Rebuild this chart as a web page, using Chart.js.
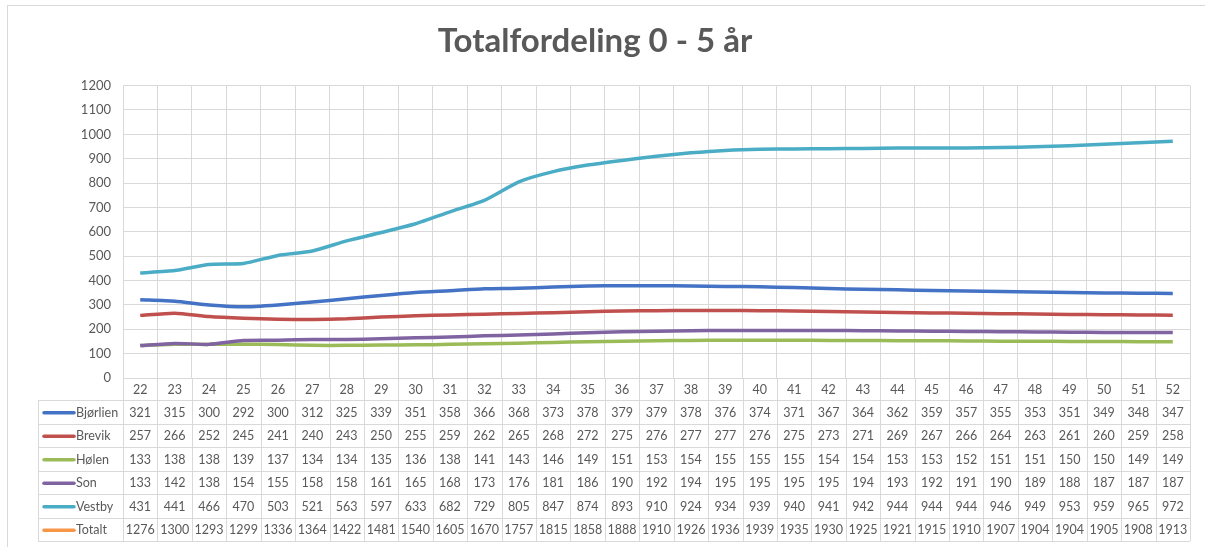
<!DOCTYPE html>
<html lang="no">
<head>
<meta charset="utf-8">
<title>Totalfordeling 0 - 5 år</title>
<script src="https://cdn.jsdelivr.net/npm/chart.js@4/dist/chart.umd.min.js"></script>
<style>
  html, body { margin: 0; padding: 0; background: #ffffff; }
  #wrap { position: relative; width: 1205px; height: 547px; }
</style>
</head>
<body>
<div id="wrap"><canvas id="chart" width="1205" height="547"></canvas></div>
<script>
// årstall (kolonner)
const years = ['22','23','24','25','26','27','28','29','30','31','32','33','34','35','36','37','38','39','40','41','42','43','44','45','46','47','48','49','50','51','52'];

// verdier per skolekrets
const bjorlien = [321,315,300,292,300,312,325,339,351,358,366,368,373,378,379,379,378,376,374,371,367,364,362,359,357,355,353,351,349,348,347];
const brevik   = [257,266,252,245,241,240,243,250,255,259,262,265,268,272,275,276,277,277,276,275,273,271,269,267,266,264,263,261,260,259,258];
const holen    = [133,138,138,139,137,134,134,135,136,138,141,143,146,149,151,153,154,155,155,155,154,154,153,153,152,151,151,150,150,149,149];
const son      = [133,142,138,154,155,158,158,161,165,168,173,176,181,186,190,192,194,195,195,195,195,194,193,192,191,190,189,188,187,187,187];
const vestby   = [431,441,466,470,503,521,563,597,633,682,729,805,847,874,893,910,924,934,939,940,941,942,944,944,944,946,949,953,959,965,972];
const totalt   = [1276,1300,1293,1299,1336,1364,1422,1481,1540,1605,1670,1757,1815,1858,1888,1910,1926,1936,1939,1935,1930,1925,1921,1915,1910,1907,1904,1904,1905,1908,1913];

const seriesNames = ['Bjørlien','Brevik','Hølen','Son','Vestby','Totalt'];
const yTicks = [0,100,200,300,400,500,600,700,800,900,1000,1100,1200];

const textColor = '#595959';
const gridColor = '#d9d9d9';
const fontFamily = 'Lato, "Open Sans", sans-serif';
const colors = ['#4472c4','#c0504d','#9bbb59','#8064a2','#4bacc6','#f79646'];

// tabell-layout under grafen
const labelRowHeight = 22;
const rowHeight = 23.5;
const tableLeft = 38;

// tegner datatabellen (som i Excel) under x-aksen
const dataTablePlugin = {
  id: 'dataTable',
  beforeDraw(chart) {
    const ctx = chart.ctx;
    ctx.save();
    ctx.strokeStyle = '#d9d9d9';
    ctx.lineWidth = 1;
    ctx.strokeRect(7.5, 5.5, chart.width, chart.height);
    ctx.restore();
  },
  afterDraw(chart) {
    const ctx = chart.ctx;
    const x = chart.scales.x;
    const area = chart.chartArea;
    const tableTop = area.bottom + labelRowHeight;
    const rows = chart.data.datasets.length;
    const tableBottom = tableTop + rows * rowHeight;
    const colW = (area.right - area.left) / years.length;

    ctx.save();
    ctx.strokeStyle = gridColor;
    ctx.lineWidth = 1;

    // vertikale linjer
    for (let i = 0; i <= years.length; i++) {
      const px = Math.round(area.left + i * colW) + 0.5;
      ctx.beginPath();
      ctx.moveTo(px, area.bottom);
      ctx.lineTo(px, tableBottom);
      ctx.stroke();
    }
    ctx.beginPath();
    ctx.moveTo(tableLeft + 0.5, tableTop);
    ctx.lineTo(tableLeft + 0.5, tableBottom);
    ctx.stroke();

    // horisontale linjer
    for (let r = 0; r <= rows; r++) {
      const py = Math.round(tableTop + r * rowHeight) + 0.5;
      ctx.beginPath();
      ctx.moveTo(tableLeft, py);
      ctx.lineTo(area.right, py);
      ctx.stroke();
    }

    // kategori-etiketter
    ctx.fillStyle = textColor;
    ctx.font = '12.5px ' + fontFamily;
    ctx.textAlign = 'center';
    ctx.textBaseline = 'middle';
    years.forEach((yr, i) => {
      ctx.fillText(yr, x.getPixelForValue(i), area.bottom + labelRowHeight / 2 + 1);
    });

    // rader med forklaring og verdier
    chart.data.datasets.forEach((ds, r) => {
      const cy = tableTop + r * rowHeight + rowHeight / 2 + 1;
      ctx.strokeStyle = ds.borderColor;
      ctx.lineWidth = 3.5;
      ctx.lineCap = 'round';
      ctx.beginPath();
      ctx.moveTo(44, cy);
      ctx.lineTo(74, cy);
      ctx.stroke();

      ctx.fillStyle = textColor;
      ctx.textAlign = 'left';
      ctx.fillText(ds.label, 76, cy);
      ctx.textAlign = 'center';
      ds.data.forEach((v, i) => {
        ctx.fillText(String(v), x.getPixelForValue(i), cy);
      });
    });
    ctx.restore();
  }
};

function makeDataset(name, values, idx) {
  return {
    label: name,
    data: values,
    borderColor: colors[idx],
    backgroundColor: colors[idx],
    borderWidth: 3.5,
    pointRadius: 0,
    tension: 0.2,
    hidden: name === 'Totalt',
    order: 10 - idx
  };
}

const ctx = document.getElementById('chart').getContext('2d');
new Chart(ctx, {
  type: 'line',
  data: {
    labels: years,
    datasets: [
      makeDataset(seriesNames[0], bjorlien, 0),
      makeDataset(seriesNames[1], brevik, 1),
      makeDataset(seriesNames[2], holen, 2),
      makeDataset(seriesNames[3], son, 3),
      makeDataset(seriesNames[4], vestby, 4),
      makeDataset(seriesNames[5], totalt, 5)
    ]
  },
  options: {
    responsive: false,
    animation: false,
    layout: {
      padding: { left: 0, right: 15, top: 0, bottom: 169 - labelRowHeight }
    },
    plugins: {
      legend: { display: false },
      tooltip: { enabled: false },
      title: {
        display: true,
        text: 'Totalfordeling 0 - 5 år',
        color: textColor,
        font: { family: fontFamily, size: 33, weight: 'bold' },
        padding: { top: 22, bottom: 24 }
      }
    },
    scales: {
      x: {
        offset: true,
        grid: { offset: true, color: gridColor, drawTicks: false },
        border: { color: gridColor },
        ticks: { display: false },
        afterFit(scale) { scale.height = labelRowHeight; }
      },
      y: {
        min: 0,
        max: 1200,
        afterBuildTicks(scale) { scale.ticks = yTicks.map(v => ({ value: v })); },
        grid: { color: gridColor, drawTicks: false },
        border: { color: gridColor },
        ticks: {
          color: textColor,
          padding: 12,
          font: { family: fontFamily, size: 13 },
          callback: function(value) { return String(value); }
        },
        afterFit(scale) { scale.width = 123; }
      }
    }
  },
  plugins: [dataTablePlugin]
});
</script>
</body>
</html>
